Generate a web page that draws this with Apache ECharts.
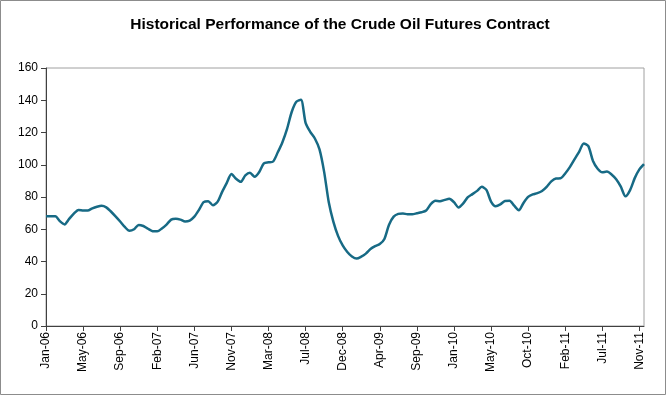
<!DOCTYPE html>
<html>
<head>
<meta charset="utf-8">
<script src="https://cdn.jsdelivr.net/npm/echarts@6/dist/echarts.min.js"></script>
<style>
  html, body { margin: 0; padding: 0; background: #fff; }
  #chart { width: 667px; height: 396px; }
</style>
</head>
<body>
<div id="chart"></div>
<script>
// tick labels, one every 8 data points
const tickLabels = ['Jan-06', 'May-06', 'Sep-06', 'Feb-07', 'Jun-07', 'Nov-07', 'Mar-08', 'Jul-08',
  'Dec-08', 'Apr-09', 'Sep-09', 'Jan-10', 'May-10', 'Oct-10', 'Feb-11', 'Jul-11', 'Nov-11'];
const pointsPerTick = 8;

// crude oil futures price
const prices = [
  68, 68, 68, 65, 63, 66.4, 69.7, 72,
  71.7, 71.6, 73, 74, 74.6, 73.6, 71, 68,
  64.8, 61.4, 59, 60, 62.7, 62, 60.3, 58.8,
  58.7, 60.5, 62.9, 66, 66.5, 66, 64.8, 65.4,
  67.8, 72, 76.8, 77.4, 74.9, 77, 83.2, 88.8,
  94.2, 91.3, 89.4, 93.4, 95, 92.5, 95.5, 100.9,
  101.5, 102, 107.7, 114, 122.3, 132.7, 139, 140.3,
  126, 120.4, 116.3, 109.5, 95.6, 76.7, 64.6, 55.9,
  50, 45.9, 43.1, 41.8, 43, 44.9, 47.7, 49.5,
  50.8, 54, 62.8, 67.8, 69.5, 69.8, 69.3, 69.3,
  69.9, 70.5, 71.6, 75.6, 77.7, 77.4, 78.2, 78.9,
  76.8, 73.5, 76, 79.9, 81.8, 83.8, 86.3, 84.4,
  77.2, 74.3, 75.4, 77.5, 77.6, 74.6, 71.8, 76.3,
  80.1, 81.6, 82.4, 83.7, 86.3, 89.7, 91.5, 91.6,
  94.6, 98.5, 103.3, 108, 113.2, 111.5, 102.3, 97.5,
  95.3, 95.8, 94, 91, 86.4, 80.4, 84.3, 91.7,
  97.1, 100.4
];

const categories = prices.map((_, i) =>
  i % pointsPerTick === 0 ? (tickLabels[i / pointsPerTick] || '') : '');

const chart = echarts.init(document.getElementById('chart'));
const font = '"Liberation Sans", Arial, sans-serif';
const axisColor = '#404040';

chart.setOption({
  animation: false,
  backgroundColor: '#fff',
  title: {
    text: 'Historical Performance of the Crude Oil Futures Contract',
    left: 335,
    top: 12,
    textAlign: 'center',
    textStyle: { fontFamily: font, fontSize: 15.5, fontWeight: 'bold', color: '#000' },
  },
  graphic: [
    {
      type: 'rect',
      shape: { x: 0.5, y: 0.5, width: 665, height: 394 },
      style: { fill: null, stroke: '#8c8c8c', lineWidth: 1 },
      silent: true,
    },
  ],
  grid: {
    left: 46, right: 23, top: 68, bottom: 70,
    show: true, borderColor: '#a0a0a0', borderWidth: 1,
  },
  xAxis: {
    type: 'category',
    data: categories,
    boundaryGap: false,
    axisLine: { lineStyle: { color: axisColor, width: 1 } },
    axisTick: { interval: pointsPerTick - 1, length: 5, lineStyle: { color: axisColor } },
    axisLabel: {
      interval: pointsPerTick - 1,
      rotate: 90,
      margin: 6,
      fontFamily: font,
      fontSize: 12,
      color: '#000',
    },
    splitLine: { show: false },
  },
  yAxis: {
    type: 'value',
    min: 0,
    max: 160,
    interval: 20,
    axisLine: { show: true, lineStyle: { color: axisColor, width: 1 } },
    axisTick: { show: true, length: 5, lineStyle: { color: axisColor } },
    axisLabel: { margin: 8, fontFamily: font, fontSize: 12, color: '#000' },
    splitLine: { show: false },
  },
  series: [
    {
      name: 'Crude Oil',
      type: 'line',
      data: prices,
      smooth: 0.25,
      showSymbol: false,
      lineStyle: { color: '#176a85', width: 2.5 },
    },
  ],
});
</script>
</body>
</html>
